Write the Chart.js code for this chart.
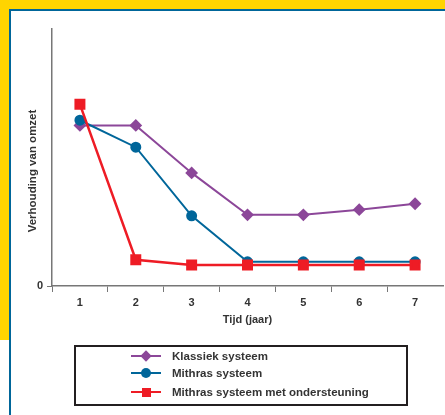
<!DOCTYPE html>
<html>
<head>
<meta charset="utf-8">
<script src="https://cdn.jsdelivr.net/npm/chart.js@4.4.1/dist/chart.umd.min.js"></script>
<style>
    html, body { margin: 0; padding: 0; background: #ffffff; }
    #frame { position: relative; width: 445px; height: 415px; overflow: hidden; background: #ffffff; font-family: "Liberation Sans", Arial, sans-serif; }
    .yellow { position: absolute; background: #ffd400; }
    .blue { position: absolute; background: #00669a; }
    #chart { position: absolute; left: 0; top: 0; }
    #legend { position: absolute; left: 74px; top: 345px; width: 334px; height: 61px; box-sizing: border-box; border: 2px solid #231f20; }
    .item { position: absolute; left: 55px; height: 14px; }
    .item .line { position: absolute; left: 0; top: 6px; width: 30px; height: 2px; }
    .item .mark { position: absolute; }
    .item .txt { position: absolute; left: 41px; top: -1px; white-space: nowrap; font-weight: bold; font-size: 11.5px; color: #333333; line-height: 16px; }
</style>
</head>
<body>
<div id="frame">
    <div class="yellow" style="left:0;top:0;width:445px;height:9px"></div>
    <div class="yellow" style="left:0;top:0;width:9px;height:340px"></div>
    <div class="blue" style="left:9px;top:9px;width:436px;height:2px"></div>
    <div class="blue" style="left:9px;top:9px;width:2px;height:406px"></div>
    <canvas id="chart" width="445" height="415"></canvas>
    <div id="legend"></div>
</div>
<script>
// Gegevens (0 = nul, 100 = bovenkant as)
const years = ['1', '2', '3', '4', '5', '6', '7'];
const klassiek = [62.5, 62.5, 44, 27.7, 27.7, 29.7, 32];
const mithras = [64.5, 54, 27.3, 9.4, 9.4, 9.4, 9.4];
const ondersteuning = [70.7, 10.2, 8.2, 8.2, 8.2, 8.2, 8.2];

const seriesNames = ['Klassiek systeem', 'Mithras systeem', 'Mithras systeem met ondersteuning'];
const yTitle = 'Verhouding van omzet';
const xTitle = 'Tijd (jaar)';

const purple = '#8c4799';
const blue = '#00669a';
const red = '#ee1c25';
const axisGrey = '#777777';
const textDark = '#333333';

Chart.defaults.font.family = '"Liberation Sans", Arial, sans-serif';

// y-as titel iets lager dan het midden, zoals in het origineel
const yTitlePlugin = {
    id: 'yTitle',
    afterDraw(chart) {
        const ctx = chart.ctx;
        ctx.save();
        ctx.translate(33, 171);
        ctx.rotate(-Math.PI / 2);
        ctx.font = 'bold 11.5px "Liberation Sans", Arial, sans-serif';
        ctx.fillStyle = textDark;
        ctx.textAlign = 'center';
        ctx.textBaseline = 'middle';
        ctx.fillText(yTitle, 0, 0);
        ctx.restore();
    }
};

const ctx = document.getElementById('chart').getContext('2d');
const chart = new Chart(ctx, {
    type: 'line',
    data: {
        labels: years,
        datasets: [{
            label: seriesNames[0],
            data: klassiek,
            borderColor: purple,
            backgroundColor: purple,
            borderWidth: 2,
            pointStyle: 'rectRot',
            pointRadius: 5,
            order: 2
        }, {
            label: seriesNames[1],
            data: mithras,
            borderColor: blue,
            backgroundColor: blue,
            borderWidth: 2,
            pointStyle: 'circle',
            pointRadius: 4.5,
            order: 1
        }, {
            label: seriesNames[2],
            data: ondersteuning,
            borderColor: red,
            backgroundColor: red,
            borderWidth: 2.5,
            pointStyle: 'rect',
            pointRadius: 6,
            order: 0
        }]
    },
    options: {
        responsive: false,
        animation: false,
        layout: { autoPadding: false, padding: { top: 29, right: 2, bottom: 88.6, left: 0 } },
        plugins: {
            legend: { display: false },
            tooltip: { enabled: false }
        },
        elements: {
            line: { tension: 0 },
            point: { borderWidth: 0, hoverRadius: 5 }
        },
        scales: {
            x: {
                offset: true,
                grid: {
                    offset: true,
                    drawOnChartArea: false,
                    tickLength: 6,
                    // de laatste (extra) lijn rechts heeft geen tick
                    color: (c) => c.tick ? axisGrey : 'rgba(0,0,0,0)'
                },
                border: { color: axisGrey, width: 1.5 },
                ticks: {
                    font: { weight: 'bold', size: 11 },
                    color: textDark,
                    padding: 4
                },
                title: {
                    display: true,
                    text: xTitle,
                    font: { weight: 'bold', size: 11 },
                    color: textDark,
                    padding: { top: 0, bottom: 0 }
                }
            },
            y: {
                min: 0,
                max: 100,
                afterFit: (scale) => { scale.width = 52; },
                grid: {
                    drawOnChartArea: false,
                    tickLength: 5,
                    color: (c) => c.tick && c.tick.value === 0 ? axisGrey : 'rgba(0,0,0,0)'
                },
                border: { color: axisGrey, width: 1.5 },
                ticks: {
                    stepSize: 100,
                    font: { weight: 'bold', size: 11 },
                    color: textDark,
                    padding: 4,
                    callback: (v) => v === 0 ? '0' : ''
                }
            }
        }
    },
    plugins: [yTitlePlugin]
});

// legenda als HTML, opgebouwd uit de datasets
const legend = document.getElementById('legend');
const markCss = {
    rectRot: 'left:11px;top:3px;width:8px;height:8px;transform:rotate(45deg);',
    circle: 'left:10px;top:2px;width:10px;height:10px;border-radius:50%;',
    rect: 'left:11px;top:3px;width:9px;height:9px;'
};
const itemTops = [2, 19, 38];
chart.data.datasets.forEach((ds, i) => {
    const item = document.createElement('div');
    item.className = 'item';
    item.style.top = itemTops[i] + 'px';
    item.innerHTML =
        '<div class="line" style="background:' + ds.borderColor + '"></div>' +
        '<div class="mark" style="' + markCss[ds.pointStyle] + 'background:' + ds.backgroundColor + '"></div>' +
        '<div class="txt">' + ds.label + '</div>';
    legend.appendChild(item);
});
</script>
</body>
</html>
